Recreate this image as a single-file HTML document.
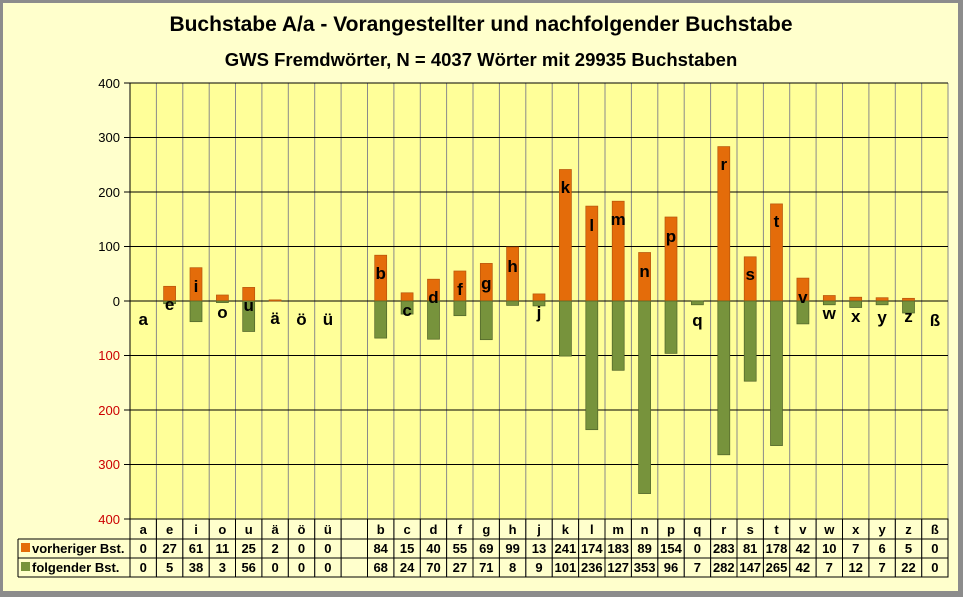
<!DOCTYPE html>
<html><head><meta charset="utf-8"><style>
html,body{margin:0;padding:0;background:#fff;}
svg{display:block;}
text{font-family:"Liberation Sans",Arial,sans-serif;}
</style></head><body>
<svg width="963" height="597" viewBox="0 0 963 597" xmlns="http://www.w3.org/2000/svg">
<rect x="0" y="0" width="963" height="597" fill="#8c8c8c"/>
<rect x="3" y="3" width="955" height="588" fill="#ffffcc"/>
<text x="481" y="31" text-anchor="middle" font-size="21" font-weight="bold">Buchstabe A/a - Vorangestellter  und nachfolgender Buchstabe</text>
<text x="481" y="66" text-anchor="middle" font-size="18.5" font-weight="bold">GWS Fremdwörter, N = 4037 Wörter mit 29935 Buchstaben</text>
<rect x="130" y="83" width="818" height="436" fill="#ffff99"/>
<g stroke="#8a8a8a" stroke-width="1">
<line x1="156.4" y1="83" x2="156.4" y2="577"/><line x1="182.8" y1="83" x2="182.8" y2="577"/><line x1="209.2" y1="83" x2="209.2" y2="577"/><line x1="235.5" y1="83" x2="235.5" y2="577"/><line x1="261.9" y1="83" x2="261.9" y2="577"/><line x1="288.3" y1="83" x2="288.3" y2="577"/><line x1="314.7" y1="83" x2="314.7" y2="577"/><line x1="341.1" y1="83" x2="341.1" y2="577"/><line x1="367.5" y1="83" x2="367.5" y2="577"/><line x1="393.9" y1="83" x2="393.9" y2="577"/><line x1="420.3" y1="83" x2="420.3" y2="577"/><line x1="446.6" y1="83" x2="446.6" y2="577"/><line x1="473.0" y1="83" x2="473.0" y2="577"/><line x1="499.4" y1="83" x2="499.4" y2="577"/><line x1="525.8" y1="83" x2="525.8" y2="577"/><line x1="552.2" y1="83" x2="552.2" y2="577"/><line x1="578.6" y1="83" x2="578.6" y2="577"/><line x1="605.0" y1="83" x2="605.0" y2="577"/><line x1="631.4" y1="83" x2="631.4" y2="577"/><line x1="657.8" y1="83" x2="657.8" y2="577"/><line x1="684.2" y1="83" x2="684.2" y2="577"/><line x1="710.6" y1="83" x2="710.6" y2="577"/><line x1="737.0" y1="83" x2="737.0" y2="577"/><line x1="763.4" y1="83" x2="763.4" y2="577"/><line x1="789.7" y1="83" x2="789.7" y2="577"/><line x1="816.1" y1="83" x2="816.1" y2="577"/><line x1="842.5" y1="83" x2="842.5" y2="577"/><line x1="868.9" y1="83" x2="868.9" y2="577"/><line x1="895.3" y1="83" x2="895.3" y2="577"/><line x1="921.7" y1="83" x2="921.7" y2="577"/><line x1="948" y1="83" x2="948" y2="577"/>
</g>
<g stroke="#000" stroke-width="1">
<line x1="124" y1="83" x2="948" y2="83"/><line x1="124" y1="137.5" x2="948" y2="137.5"/><line x1="124" y1="192" x2="948" y2="192"/><line x1="124" y1="246.5" x2="948" y2="246.5"/><line x1="124" y1="301" x2="948" y2="301"/><line x1="124" y1="355.5" x2="948" y2="355.5"/><line x1="124" y1="410" x2="948" y2="410"/><line x1="124" y1="464.5" x2="948" y2="464.5"/><line x1="124" y1="519" x2="130" y2="519"/>
<line x1="130" y1="83" x2="130" y2="519"/>
</g>
<g font-size="13" text-anchor="end">
<text x="120" y="88">400</text><text x="120" y="142">300</text><text x="120" y="197">200</text><text x="120" y="251">100</text><text x="120" y="306">0</text>
<text x="120" y="360" fill="#cc0000">100</text><text x="120" y="415" fill="#cc0000">200</text><text x="120" y="469" fill="#cc0000">300</text><text x="120" y="524" fill="#cc0000">400</text>
</g>
<g fill="#e46c0a" stroke="#b5540a" stroke-width="0.7">
<rect x="163.6" y="286.3" width="12" height="14.7"/><rect x="190" y="267.7" width="12" height="33.3"/><rect x="216.4" y="295" width="12" height="6"/><rect x="242.7" y="287.4" width="12" height="13.6"/><rect x="269.1" y="299.9" width="12" height="1.1"/>
<rect x="374.7" y="255.2" width="12" height="45.8"/><rect x="401.1" y="292.8" width="12" height="8.2"/><rect x="427.5" y="279.2" width="12" height="21.8"/><rect x="453.9" y="271" width="12" height="30"/><rect x="480.3" y="263.4" width="12" height="37.6"/><rect x="506.6" y="247" width="12" height="54"/><rect x="533" y="293.9" width="12" height="7.1"/><rect x="559.4" y="169.5" width="12" height="131.5"/><rect x="585.8" y="206.1" width="12" height="94.9"/><rect x="612.2" y="201.2" width="12" height="99.8"/><rect x="638.6" y="252.5" width="12" height="48.5"/><rect x="665" y="217" width="12" height="84"/><rect x="717.8" y="146.6" width="12" height="154.4"/><rect x="744.2" y="256.8" width="12" height="44.2"/><rect x="770.5" y="203.9" width="12" height="97.1"/><rect x="796.9" y="278.1" width="12" height="22.9"/><rect x="823.3" y="295.5" width="12" height="5.5"/><rect x="849.7" y="297.2" width="12" height="3.8"/><rect x="876.1" y="297.7" width="12" height="3.3"/><rect x="902.5" y="298.3" width="12" height="2.7"/>
</g>
<g fill="#77933c" stroke="#4f6228" stroke-width="0.7">
<rect x="163.6" y="301" width="12" height="2.7"/><rect x="190" y="301" width="12" height="20.7"/><rect x="216.4" y="301" width="12" height="1.6"/><rect x="242.7" y="301" width="12" height="30.5"/>
<rect x="374.7" y="301" width="12" height="37.1"/><rect x="401.1" y="301" width="12" height="13.1"/><rect x="427.5" y="301" width="12" height="38.2"/><rect x="453.9" y="301" width="12" height="14.7"/><rect x="480.3" y="301" width="12" height="38.7"/><rect x="506.6" y="301" width="12" height="4.4"/><rect x="533" y="301" width="12" height="4.9"/><rect x="559.4" y="301" width="12" height="55.1"/><rect x="585.8" y="301" width="12" height="128.7"/><rect x="612.2" y="301" width="12" height="69.3"/><rect x="638.6" y="301" width="12" height="192.6"/><rect x="665" y="301" width="12" height="52.4"/><rect x="691.4" y="301" width="12" height="3.8"/><rect x="717.8" y="301" width="12" height="153.8"/><rect x="744.2" y="301" width="12" height="80.2"/><rect x="770.5" y="301" width="12" height="144.6"/><rect x="796.9" y="301" width="12" height="22.9"/><rect x="823.3" y="301" width="12" height="3.8"/><rect x="849.7" y="301" width="12" height="6.5"/><rect x="876.1" y="301" width="12" height="3.8"/><rect x="902.5" y="301" width="12" height="12"/>
</g>
<g font-size="17" font-weight="bold" text-anchor="middle">
<text x="143.2" y="325">a</text><text x="169.6" y="310">e</text><text x="196" y="292">i</text><text x="222.4" y="318">o</text><text x="248.7" y="311">u</text><text x="275.1" y="324">ä</text><text x="301.5" y="325">ö</text><text x="327.9" y="325">ü</text>
<text x="380.7" y="279">b</text><text x="407.1" y="316">c</text><text x="433.5" y="303">d</text><text x="459.9" y="295">f</text><text x="486.3" y="289">g</text><text x="512.6" y="272">h</text><text x="539" y="318">j</text><text x="565.4" y="193">k</text><text x="591.8" y="231">l</text><text x="618.2" y="225">m</text><text x="644.6" y="277">n</text><text x="671" y="242">p</text><text x="697.4" y="326">q</text><text x="723.8" y="170">r</text><text x="750.2" y="280">s</text><text x="776.5" y="227">t</text><text x="802.9" y="303">v</text><text x="829.3" y="319">w</text><text x="855.7" y="322">x</text><text x="882.1" y="323">y</text><text x="908.5" y="322">z</text><text x="934.9" y="326">ß</text>
</g>
<g stroke="#000" stroke-width="1" fill="none">
<rect x="130" y="519" width="818" height="58"/>
<line x1="18" y1="539" x2="948" y2="539"/><line x1="18" y1="558" x2="948" y2="558"/><line x1="18" y1="577" x2="130" y2="577"/>
<line x1="18" y1="539" x2="18" y2="577"/>
</g>
<g stroke="#000" stroke-width="1">
<line x1="156.4" y1="519" x2="156.4" y2="577"/><line x1="182.8" y1="519" x2="182.8" y2="577"/><line x1="209.2" y1="519" x2="209.2" y2="577"/><line x1="235.5" y1="519" x2="235.5" y2="577"/><line x1="261.9" y1="519" x2="261.9" y2="577"/><line x1="288.3" y1="519" x2="288.3" y2="577"/><line x1="314.7" y1="519" x2="314.7" y2="577"/><line x1="341.1" y1="519" x2="341.1" y2="577"/><line x1="367.5" y1="519" x2="367.5" y2="577"/><line x1="393.9" y1="519" x2="393.9" y2="577"/><line x1="420.3" y1="519" x2="420.3" y2="577"/><line x1="446.6" y1="519" x2="446.6" y2="577"/><line x1="473.0" y1="519" x2="473.0" y2="577"/><line x1="499.4" y1="519" x2="499.4" y2="577"/><line x1="525.8" y1="519" x2="525.8" y2="577"/><line x1="552.2" y1="519" x2="552.2" y2="577"/><line x1="578.6" y1="519" x2="578.6" y2="577"/><line x1="605.0" y1="519" x2="605.0" y2="577"/><line x1="631.4" y1="519" x2="631.4" y2="577"/><line x1="657.8" y1="519" x2="657.8" y2="577"/><line x1="684.2" y1="519" x2="684.2" y2="577"/><line x1="710.6" y1="519" x2="710.6" y2="577"/><line x1="737.0" y1="519" x2="737.0" y2="577"/><line x1="763.4" y1="519" x2="763.4" y2="577"/><line x1="789.7" y1="519" x2="789.7" y2="577"/><line x1="816.1" y1="519" x2="816.1" y2="577"/><line x1="842.5" y1="519" x2="842.5" y2="577"/><line x1="868.9" y1="519" x2="868.9" y2="577"/><line x1="895.3" y1="519" x2="895.3" y2="577"/><line x1="921.7" y1="519" x2="921.7" y2="577"/>
</g>
<rect x="21" y="543" width="9" height="9" fill="#e46c0a"/>
<rect x="21" y="562" width="9" height="9" fill="#77933c"/>
<g font-size="13" font-weight="bold">
<text x="32" y="553">vorheriger Bst.</text>
<text x="32" y="572">folgender Bst.</text>
</g>
<g font-size="13" font-weight="bold" text-anchor="middle">
<text x="143.2" y="534">a</text><text x="169.6" y="534">e</text><text x="196" y="534">i</text><text x="222.4" y="534">o</text><text x="248.7" y="534">u</text><text x="275.1" y="534">ä</text><text x="301.5" y="534">ö</text><text x="327.9" y="534">ü</text><text x="380.7" y="534">b</text><text x="407.1" y="534">c</text><text x="433.5" y="534">d</text><text x="459.9" y="534">f</text><text x="486.3" y="534">g</text><text x="512.6" y="534">h</text><text x="539" y="534">j</text><text x="565.4" y="534">k</text><text x="591.8" y="534">l</text><text x="618.2" y="534">m</text><text x="644.6" y="534">n</text><text x="671" y="534">p</text><text x="697.4" y="534">q</text><text x="723.8" y="534">r</text><text x="750.2" y="534">s</text><text x="776.5" y="534">t</text><text x="802.9" y="534">v</text><text x="829.3" y="534">w</text><text x="855.7" y="534">x</text><text x="882.1" y="534">y</text><text x="908.5" y="534">z</text><text x="934.9" y="534">ß</text>
<text x="143.2" y="553">0</text><text x="169.6" y="553">27</text><text x="196" y="553">61</text><text x="222.4" y="553">11</text><text x="248.7" y="553">25</text><text x="275.1" y="553">2</text><text x="301.5" y="553">0</text><text x="327.9" y="553">0</text><text x="380.7" y="553">84</text><text x="407.1" y="553">15</text><text x="433.5" y="553">40</text><text x="459.9" y="553">55</text><text x="486.3" y="553">69</text><text x="512.6" y="553">99</text><text x="539" y="553">13</text><text x="565.4" y="553">241</text><text x="591.8" y="553">174</text><text x="618.2" y="553">183</text><text x="644.6" y="553">89</text><text x="671" y="553">154</text><text x="697.4" y="553">0</text><text x="723.8" y="553">283</text><text x="750.2" y="553">81</text><text x="776.5" y="553">178</text><text x="802.9" y="553">42</text><text x="829.3" y="553">10</text><text x="855.7" y="553">7</text><text x="882.1" y="553">6</text><text x="908.5" y="553">5</text><text x="934.9" y="553">0</text>
<text x="143.2" y="572">0</text><text x="169.6" y="572">5</text><text x="196" y="572">38</text><text x="222.4" y="572">3</text><text x="248.7" y="572">56</text><text x="275.1" y="572">0</text><text x="301.5" y="572">0</text><text x="327.9" y="572">0</text><text x="380.7" y="572">68</text><text x="407.1" y="572">24</text><text x="433.5" y="572">70</text><text x="459.9" y="572">27</text><text x="486.3" y="572">71</text><text x="512.6" y="572">8</text><text x="539" y="572">9</text><text x="565.4" y="572">101</text><text x="591.8" y="572">236</text><text x="618.2" y="572">127</text><text x="644.6" y="572">353</text><text x="671" y="572">96</text><text x="697.4" y="572">7</text><text x="723.8" y="572">282</text><text x="750.2" y="572">147</text><text x="776.5" y="572">265</text><text x="802.9" y="572">42</text><text x="829.3" y="572">7</text><text x="855.7" y="572">12</text><text x="882.1" y="572">7</text><text x="908.5" y="572">22</text><text x="934.9" y="572">0</text>
</g>
</svg>
</body></html>
